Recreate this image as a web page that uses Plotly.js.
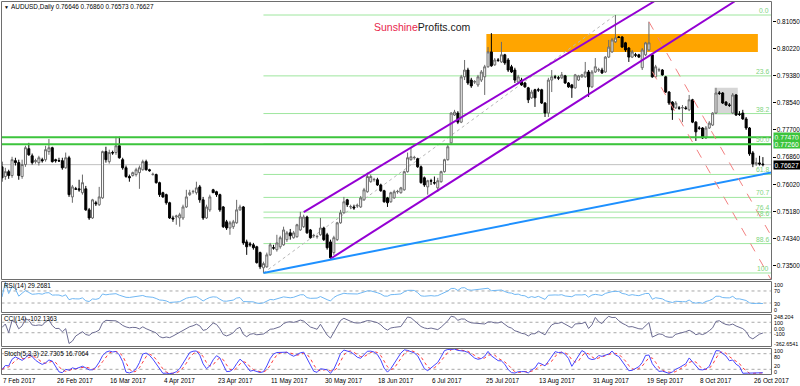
<!DOCTYPE html>
<html><head><meta charset="utf-8">
<script src="https://cdn.plot.ly/plotly-3.0.1.min.js"></script>
<style>html,body{margin:0;padding:0;background:#fff;overflow:hidden}#chart{width:800px;height:386px}</style>
</head><body><div id="chart"></div>
<script>
// ---------------- DATA ----------------
const symbolTitle = 'AUDUSD,Daily 0.76646 0.76860 0.76573 0.76627';
const firstBarDate = [2017, 1, 7];   // 7 Feb 2017, broker with Sun-Fri daily bars
const barCount = 228;
const opens = [
.7656,.7626,.7641,.7629,.7675,.7669,.7626,.7663,.7712,.7690,
.7672,.7669,.7678,.7678,.7703,.7715,.7678,.7675,.7675,.7653,
.7684,.7563,.7588,.7588,.7576,.7588,.7523,.7498,.7545,.7539,
.7560,.7703,.7672,.7700,.7700,.7721,.7678,.7653,.7626,.7629,
.7632,.7638,.7647,.7672,.7647,.7632,.7632,.7607,.7576,.7570,
.7545,.7498,.7501,.7498,.7498,.7532,.7570,.7579,.7576,.7594,
.7554,.7498,.7523,.7585,.7579,.7570,.7532,.7486,.7467,.7471,
.7483,.7523,.7532,.7424,.7418,.7415,.7409,.7391,.7344,.7347,
.7384,.7406,.7400,.7409,.7415,.7431,.7452,.7437,.7440,.7461,
.7471,.7501,.7461,.7443,.7440,.7446,.7467,.7446,.7424,.7391,
.7431,.7483,.7514,.7554,.7532,.7532,.7535,.7532,.7554,.7579,
.7610,.7616,.7616,.7600,.7582,.7560,.7548,.7560,.7579,.7576,
.7585,.7641,.7678,.7684,.7681,.7656,.7622,.7594,.7613,.7607,
.7591,.7610,.7641,.7678,.7730,.7816,.7822,.7794,.7934,.7955,
.7924,.7918,.7909,.7924,.7934,.7965,.8011,.7971,.7986,.7980,
.8002,.7986,.7965,.7955,.7918,.7924,.7915,.7900,.7869,.7894,
.7894,.7894,.7853,.7822,.7924,.7934,.7931,.7931,.7937,.7915,
.7909,.7900,.7924,.7934,.7934,.7949,.7903,.7949,.7955,.7955,
.7949,.7995,.8011,.8042,.8057,.8057,.8039,.8023,.7995,.8002,
.8002,.7962,.8002,.8017,.8002,.7934,.7955,.7955,.7934,.7887,
.7856,.7838,.7838,.7838,.7838,.7832,.7863,.7794,.7776,.7776,
.7745,.7776,.7785,.7822,.7884,.7884,.7856,.7847,.7822,.7878,
.7819,.7822,.7804,.7776,.7699,.7665,.7668,.76646];
const highs = [
.7672,.7653,.7647,.7687,.7684,.7678,.7678,.7721,.7730,.7697,
.7681,.7690,.7684,.7721,.7742,.7718,.7681,.7684,.7684,.7700,
.7690,.7600,.7594,.7616,.7632,.7597,.7529,.7557,.7551,.7594,
.7706,.7718,.7709,.7706,.7749,.7749,.7684,.7660,.7632,.7641,
.7653,.7660,.7678,.7678,.7650,.7638,.7635,.7610,.7579,.7573,
.7548,.7505,.7508,.7514,.7539,.7585,.7585,.7585,.7610,.7600,
.7563,.7539,.7570,.7588,.7582,.7573,.7535,.7492,.7489,.7492,
.7554,.7539,.7535,.7431,.7424,.7421,.7412,.7394,.7363,.7391,
.7421,.7415,.7446,.7443,.7471,.7458,.7464,.7458,.7480,.7517,
.7508,.7505,.7464,.7449,.7446,.7498,.7471,.7452,.7431,.7443,
.7486,.7523,.7563,.7557,.7539,.7539,.7542,.7566,.7591,.7638,
.7632,.7622,.7622,.7604,.7585,.7563,.7579,.7585,.7585,.7594,
.7644,.7700,.7715,.7690,.7684,.7660,.7626,.7616,.7619,.7626,
.7622,.7644,.7681,.7724,.7825,.7832,.7828,.7940,.7986,.7962,
.7931,.7924,.7940,.7955,.7971,.8026,.8069,.7992,.7992,.8042,
.8005,.7992,.7971,.7962,.7940,.7931,.7918,.7903,.7894,.7897,
.7900,.7897,.7856,.7931,.7955,.7940,.7937,.7949,.7940,.7918,
.7912,.7943,.7940,.7943,.7980,.7955,.7955,.7992,.7962,.7962,
.7998,.8048,.8054,.8125,.8060,.8060,.8042,.8026,.8017,.8008,
.8005,.8023,.8042,.8104,.8005,.7971,.7962,.7958,.7937,.7890,
.7859,.7859,.7844,.7847,.7844,.7878,.7866,.7797,.7782,.7779,
.7782,.7797,.7825,.7900,.7890,.7887,.7859,.7853,.7884,.7881,
.7828,.7832,.7810,.7779,.7705,.7684,.7690,.76860];
const lows = [
.7610,.7616,.7619,.7622,.7660,.7616,.7619,.7656,.7690,.7663,
.7666,.7660,.7669,.7672,.7693,.7669,.7669,.7672,.7647,.7650,
.7563,.7545,.7585,.7579,.7570,.7520,.7492,.7495,.7535,.7535,
.7557,.7669,.7666,.7693,.7693,.7681,.7647,.7622,.7610,.7626,
.7626,.7588,.7644,.7644,.7641,.7629,.7604,.7563,.7560,.7539,
.7495,.7486,.7477,.7471,.7492,.7529,.7566,.7573,.7570,.7545,
.7492,.7495,.7517,.7576,.7563,.7517,.7467,.7461,.7446,.7464,
.7480,.7520,.7415,.7384,.7409,.7400,.7357,.7340,.7328,.7344,
.7381,.7400,.7394,.7403,.7412,.7424,.7431,.7434,.7437,.7458,
.7467,.7449,.7434,.7437,.7434,.7443,.7427,.7400,.7372,.7384,
.7427,.7480,.7511,.7532,.7526,.7523,.7529,.7529,.7551,.7576,
.7607,.7610,.7597,.7579,.7545,.7532,.7545,.7557,.7573,.7573,
.7582,.7638,.7675,.7678,.7653,.7604,.7594,.7570,.7600,.7601,
.7579,.7607,.7638,.7675,.7727,.7813,.7788,.7791,.7924,.7909,
.7900,.7912,.7903,.7918,.7878,.7962,.7965,.7968,.7980,.7977,
.7971,.7949,.7946,.7915,.7912,.7906,.7900,.7853,.7866,.7841,
.7887,.7850,.7810,.7810,.7887,.7927,.7924,.7927,.7912,.7900,
.7869,.7897,.7921,.7931,.7931,.7872,.7900,.7946,.7949,.7943,
.7946,.7992,.8008,.8039,.8054,.8023,.8011,.7980,.7992,.7995,
.7992,.7955,.7998,.8014,.7931,.7931,.7949,.7937,.7884,.7847,
.7801,.7835,.7832,.7794,.7832,.7828,.7791,.7736,.7770,.7742,
.7742,.7773,.7782,.7819,.7878,.7850,.7844,.7841,.7819,.7813,
.7813,.7801,.7770,.7690,.7655,.7659,.7660,.76573];
const closes = [
.7622,.7641,.7629,.7678,.7669,.7629,.7663,.7715,.7693,.7669,
.7675,.7684,.7675,.7709,.7715,.7672,.7675,.7674,.7653,.7684,
.7570,.7594,.7587,.7585,.7607,.7523,.7498,.7554,.7542,.7563,
.7703,.7678,.7700,.7699,.7721,.7684,.7653,.7626,.7622,.7638,
.7647,.7653,.7672,.7647,.7644,.7633,.7607,.7570,.7563,.7545,
.7498,.7495,.7504,.7508,.7532,.7563,.7576,.7580,.7591,.7554,
.7498,.7532,.7563,.7576,.7570,.7523,.7471,.7467,.7483,.7486,
.7523,.7532,.7421,.7409,.7415,.7406,.7360,.7347,.7357,.7384,
.7415,.7405,.7421,.7437,.7461,.7452,.7443,.7452,.7477,.7501,
.7501,.7452,.7437,.7444,.7441,.7467,.7431,.7406,.7375,.7437,
.7483,.7514,.7548,.7539,.7533,.7529,.7536,.7560,.7585,.7626,
.7626,.7617,.7600,.7582,.7548,.7545,.7576,.7579,.7580,.7591,
.7641,.7684,.7687,.7685,.7656,.7607,.7600,.7613,.7612,.7606,
.7613,.7641,.7678,.7718,.7822,.7825,.7794,.7934,.7955,.7915,
.7906,.7919,.7934,.7949,.7965,.8011,.7968,.7986,.7985,.8002,
.7977,.7955,.7949,.7924,.7934,.7909,.7903,.7863,.7887,.7869,
.7893,.7853,.7822,.7924,.7934,.7933,.7930,.7940,.7915,.7903,
.7900,.7940,.7937,.7940,.7949,.7903,.7949,.7965,.7956,.7946,
.7995,.8026,.8048,.8054,.8056,.8026,.8017,.7995,.8011,.8001,
.7995,.8017,.8039,.8039,.7934,.7965,.7956,.7940,.7887,.7853,
.7832,.7853,.7837,.7839,.7836,.7863,.7794,.7764,.7775,.7745,
.7776,.7791,.7822,.7884,.7883,.7853,.7847,.7846,.7878,.7816,
.7818,.7804,.7776,.7696,.7665,.7668,.7665,.76627];

const dateTickLabels = ['7 Feb 2017','26 Feb 2017','16 Mar 2017','4 Apr 2017','23 Apr 2017','11 May 2017','30 May 2017','18 Jun 2017','6 Jul 2017','25 Jul 2017','13 Aug 2017','31 Aug 2017','19 Sep 2017','8 Oct 2017','26 Oct 2017'];
const priceTickVals = [0.8105,0.8022,0.7938,0.7854,0.7770,0.7686,0.7602,0.7518,0.7434,0.7350];
const priceTickText = ['0.81050','0.80220','0.79380','0.78540','0.77700','0.76860','0.76020','0.75180','0.74340','0.73500'];
const levelLines = [0.7747, 0.7726];
const levelLabels = ['0.77470', '0.77260'];
const lastPrice = 0.76627, lastPriceLabel = '0.76627';
const fibHigh = 0.8125, fibLow = 0.7328;
const fibLevels = [0, 23.6, 38.2, 50, 61.8, 70.7, 76.4, 78.6, 88.6, 100];
const fibLevelText = ['0.0','23.6','38.2','50.0','61.8','70.7','76.4','78.6','88.6','100'];
const fibLowDate = '9 May 2017', fibHighDate = '8 Sep 2017';
// drawn objects: [date, price] anchors (rays extend to the right)
const blueSupport = [['9 May 2017', 0.7328], ['1 Jun 2017', 0.7369]];
const channelUpper = [['23 May 2017', 0.7516], ['19 Sep 2017', 0.8151]];
const channelLower = [['1 Jun 2017', 0.7372], ['17 Oct 2017', 0.8150]];
const redDash1 = [['20 Sep 2017', 0.8104], ['26 Oct 2017', 0.7542]];
const redDash2 = [['21 Sep 2017', 0.7950], ['26 Oct 2017', 0.7406]];
const orangeZone = {from: '26 Jul 2017', to: '27 Oct 2017', top: 0.8066, bottom: 0.8011};
const grayZone = {from: '13 Oct 2017', to: '20 Oct 2017', top: 0.7900, bottom: 0.7818};
const rsiLabel = 'RSI(14) 29.2681', cciLabel = 'CCI(14) -102.1363', stochLabel = 'Stoch(5,3,3) 22.7305 16.7064';
const cciMax = 248.204, cciMin = -362.6541;
const rsiScaleText = ['100', '70', '30', '0'];
const cciScaleText = ['248.204', '100', '0.00', '-100', '-362.6541'];
const stochScaleText = ['100', '80', '20', '0'];

// ---------------- HELPERS ----------------
const MON = ['Jan','Feb','Mar','Apr','May','Jun','Jul','Aug','Sep','Oct','Nov','Dec'];
const dates = [];
{ let d = new Date(Date.UTC(firstBarDate[0], firstBarDate[1], firstBarDate[2]));
  while (dates.length < barCount) {
    if (d.getUTCDay() !== 6) dates.push(d.getUTCDate() + ' ' + MON[d.getUTCMonth()] + ' ' + d.getUTCFullYear());
    d = new Date(d.getTime() + 86400000);
  } }
const idx = s => dates.indexOf(s);

// indicators derived from the price arrays
function calcRSI(c, n) {
  const out = [50]; let ag = 0, al = 0;
  for (let i = 1; i < c.length; i++) {
    const ch = c[i] - c[i-1], g = Math.max(ch, 0), l = Math.max(-ch, 0);
    if (i <= n) { ag = (ag*(i-1) + g)/i; al = (al*(i-1) + l)/i; }
    else { ag = (ag*(n-1) + g)/n; al = (al*(n-1) + l)/n; }
    out.push(al === 0 ? 100 : 100 - 100/(1 + ag/al));
  }
  return out;
}
function calcCCI(h, l, c, n) {
  const tp = c.map((v, i) => (h[i] + l[i] + v)/3), out = [];
  for (let i = 0; i < tp.length; i++) {
    const s = Math.max(0, i-n+1), w = tp.slice(s, i+1);
    const m = w.reduce((a, b) => a + b, 0)/w.length;
    const md = w.reduce((a, b) => a + Math.abs(b - m), 0)/w.length;
    out.push(md === 0 ? 0 : (tp[i] - m)/(0.015*md));
  }
  return out;
}
function calcStoch(h, l, c, k, slow, dper) {
  const num = [], den = [], main = [], sig = [];
  for (let i = 0; i < c.length; i++) {
    const s = Math.max(0, i-k+1);
    const hh = Math.max(...h.slice(s, i+1)), ll = Math.min(...l.slice(s, i+1));
    num.push(c[i] - ll); den.push(hh - ll);
    const s2 = Math.max(0, i-slow+1);
    let a = 0, b = 0; for (let j = s2; j <= i; j++) { a += num[j]; b += den[j]; }
    main.push(b === 0 ? 50 : 100*a/b);
    const s3 = Math.max(0, i-dper+1); let t = 0;
    for (let j = s3; j <= i; j++) t += main[j];
    sig.push(t/(i-s3+1));
  }
  return [main, sig];
}
const rsi = calcRSI(closes, 14);
const cci = calcCCI(highs, lows, closes, 14);
const [stMain, stSig] = calcStoch(highs, lows, closes, 5, 3, 3);

// ---------------- LAYOUT GEOMETRY ----------------
const W = 800, H = 386;
const PX = x => x/W, PY = y => 1 - y/H;
const plotL = 1.5, plotR = 771.5;
const pMain = [1.5, 279.5], pRsi = [281.5, 312.5], pCci = [314.5, 346.5], pSto = [348.5, 374.5];
const barPx = 3.352, bar0Px = 2;
const xMin = (plotL - bar0Px)/barPx, xMax = (plotR - bar0Px)/barPx;
const pxPerPrice = 3237, refY = 15;
const yMin = fibHigh - (pMain[1] - refY)/pxPerPrice, yMax = fibHigh + (refY - pMain[0])/pxPerPrice;
const FONT = 'Liberation Sans, Arial, sans-serif';
const FS = 6.4;

function ray(a, b) {
  const x1 = idx(a[0]), y1 = a[1], x2 = idx(b[0]), y2 = b[1];
  const sl = (y2 - y1)/(x2 - x1);
  let xe = xMax, ye = y1 + sl*(xe - x1);
  if (ye > yMax) { xe = x1 + (yMax - y1)/sl; ye = yMax; }
  if (ye < yMin) { xe = x1 + (yMin - y1)/sl; ye = yMin; }
  return {x0: x1, y0: y1, x1: xe, y1: ye};
}

const shapes = [];
// zones
shapes.push({type:'rect', xref:'x', yref:'y', x0: idx(orangeZone.from)-0.5, x1: idx(orangeZone.to)+0.5,
  y0: orangeZone.bottom, y1: orangeZone.top, fillcolor:'#FFA500', line:{width:0}, layer:'below'});
shapes.push({type:'rect', xref:'x', yref:'y', x0: idx(grayZone.from)-0.5, x1: idx(grayZone.to)+0.5,
  y0: grayZone.bottom, y1: grayZone.top, fillcolor:'#D6D6D6', line:{width:0}, layer:'below'});
// fibonacci
const fibPrice = f => fibHigh - (fibHigh - fibLow)*f/100;
fibLevels.forEach(f => shapes.push({type:'line', xref:'x', yref:'y', x0: idx(fibLowDate), x1: xMax,
  y0: fibPrice(f), y1: fibPrice(f), line:{color:'#9EE69E', width:1}, layer:'below'}));
shapes.push({type:'line', xref:'x', yref:'y', x0: idx(fibLowDate), y0: fibLow, x1: idx(fibHighDate), y1: fibHigh,
  line:{color:'#B8B8B8', width:1, dash:'dot'}, layer:'below'});
// current price line
shapes.push({type:'line', xref:'paper', yref:'y', x0: PX(plotL), x1: PX(plotR), y0: lastPrice, y1: lastPrice,
  line:{color:'#C0C0C0', width:1}, layer:'below'});
// horizontal resistance lines
levelLines.forEach(v => shapes.push({type:'line', xref:'paper', yref:'y', x0: PX(plotL), x1: PX(plotR), y0: v, y1: v,
  line:{color:'#3CC43C', width:2}}));
// trend lines
[[channelUpper,'#9400D3',2,'solid'],[channelLower,'#9400D3',2,'solid'],[blueSupport,'#1E90FF',2,'solid'],
 [redDash1,'#F28080',1,'dash'],[redDash2,'#F28080',1,'dash']].forEach(([pts,col,w,dash]) => {
  const r = ray(pts[0], pts[1]);
  shapes.push(Object.assign({type:'line', xref:'x', yref:'y', line:{color:col, width:w, dash:dash}}, r));
});
// indicator level lines
[[70,'y2'],[30,'y2'],[100,'y3'],[-100,'y3'],[80,'y4'],[20,'y4']].forEach(([v,ax]) =>
  shapes.push({type:'line', xref:'paper', yref:ax, x0: PX(plotL), x1: PX(plotR), y0: v, y1: v,
    line:{color:'#A8A8A8', width:1, dash:'dot'}, layer:'below'}));
// panel frames
[pMain, pRsi, pCci, pSto].forEach(p => shapes.push({type:'rect', xref:'paper', yref:'paper',
  x0: PX(plotL), x1: PX(plotR), y0: PY(p[1]), y1: PY(p[0]), line:{color:'#6E6E6E', width:1}, fillcolor:'rgba(0,0,0,0)'}));

// ---------------- ANNOTATIONS ----------------
const ann = [];
const txt = (x, y, t, o) => ann.push(Object.assign({xref:'paper', yref:'paper', x: PX(x), y: PY(y), text: t,
  showarrow:false, xanchor:'left', yanchor:'middle', borderpad:0, font:{family:FONT, size:FS, color:'#000'}}, o||{}));
txt(3, 7, '▼', {font:{family:FONT, size:5, color:'#000'}});
txt(10, 7, symbolTitle);
txt(3, 286, rsiLabel); txt(3, 319, cciLabel); txt(3, 354, stochLabel);
ann.push({xref:'paper', yref:'paper', x: PX(372), y: PY(27), xanchor:'left', yanchor:'middle', showarrow:false,
  text:'<span style="color:#E8264C">Sunshine</span>Profits.com', font:{family:FONT, size:10.5, color:'#1a1a1a'}});
// date labels
dateTickLabels.forEach(d => ann.push({xref:'x', yref:'paper', x: idx(d), y: PY(380.5), text: d, showarrow:false,
  xanchor:'left', yanchor:'middle', borderpad:0, font:{family:FONT, size:FS, color:'#000'}}));
// fib level text
fibLevels.forEach((f, i) => ann.push({xref:'paper', yref:'y', x: PX(770), y: fibPrice(f), text: fibLevelText[i],
  showarrow:false, xanchor:'right', yanchor:'bottom', borderpad:0, font:{family:FONT, size:FS+0.4, color:'#80D480'}}));
// highlighted axis labels
levelLines.forEach((v, i) => ann.push({xref:'paper', yref:'y', x: PX(772.5), y: v, text: levelLabels[i], showarrow:false,
  xanchor:'left', yanchor:'middle', bgcolor:'#3CC43C', borderpad:0.6, font:{family:FONT, size:FS+0.3, color:'#ffffff'}}));
ann.push({xref:'paper', yref:'y', x: PX(772.5), y: lastPrice, text: lastPriceLabel, showarrow:false,
  xanchor:'left', yanchor:'middle', bgcolor:'#000000', borderpad:0.6, font:{family:FONT, size:FS+0.3, color:'#ffffff'}});
// indicator scale labels (small, spaced so they do not collide)
const SFS = 5.4;
[[rsiScaleText[0],284.9],[rsiScaleText[1],291.2],[rsiScaleText[2],303.7],[rsiScaleText[3],309.6]].forEach(([t,y]) =>
  txt(773, y, t, {font:{family:FONT, size:SFS, color:'#000'}}));
[[cciScaleText[0],317.4],[cciScaleText[1],323.3],[cciScaleText[2],328.6],[cciScaleText[3],334.2],[cciScaleText[4],344.0]].forEach(([t,y]) =>
  txt(772.5, y, t, {font:{family:FONT, size:SFS, color:'#000'}}));
[[stochScaleText[0],351.3],[stochScaleText[1],357.4],[stochScaleText[2],366.3],[stochScaleText[3],372.0]].forEach(([t,y]) =>
  txt(773, y, t, {font:{family:FONT, size:SFS, color:'#000'}}));

// ---------------- TRACES ----------------
const traces = [
  {type:'candlestick', x: dates, open: opens, high: highs, low: lows, close: closes, xaxis:'x', yaxis:'y',
   increasing:{line:{color:'#6A6A6A', width:1}, fillcolor:'#FFFFFF'},
   decreasing:{line:{color:'#000000', width:1}, fillcolor:'#000000'},
   whiskerwidth:0, hoverinfo:'skip', showlegend:false},
  {type:'scatter', mode:'lines', x: dates, y: rsi, xaxis:'x', yaxis:'y2', line:{color:'#70B7F3', width:1}, hoverinfo:'skip', showlegend:false},
  {type:'scatter', mode:'lines', x: dates, y: cci, xaxis:'x', yaxis:'y3', line:{color:'#6C6C92', width:1}, hoverinfo:'skip', showlegend:false},
  {type:'scatter', mode:'lines', x: dates, y: stSig, xaxis:'x', yaxis:'y4', line:{color:'#FF3B3B', width:1, dash:'dot'}, hoverinfo:'skip', showlegend:false},
  {type:'scatter', mode:'lines', x: dates, y: stMain, xaxis:'x', yaxis:'y4', line:{color:'#4646FF', width:1}, hoverinfo:'skip', showlegend:false}
];

const yBase = {anchor:'x', showgrid:false, zeroline:false, showticklabels:false, fixedrange:true, showline:false};
const layout = {
  width: W, height: H, margin:{l:0, r:0, t:0, b:0, autoexpand:false},
  paper_bgcolor:'#fff', plot_bgcolor:'rgba(0,0,0,0)', showlegend:false, boxgap:0.15,
  xaxis:{type:'category', domain:[PX(plotL), PX(plotR)], range:[xMin, xMax], anchor:'y4',
    showgrid:false, zeroline:false, showticklabels:false, ticks:'', rangeslider:{visible:false}, fixedrange:true},
  yaxis: Object.assign({}, yBase, {domain:[PY(pMain[1]), PY(pMain[0])], range:[yMin, yMax], side:'right',
    showticklabels:true, tickvals: priceTickVals, ticktext: priceTickText, ticks:'outside', ticklen:3,
    tickcolor:'#000', tickfont:{family:FONT, size:FS, color:'#000'}}),
  yaxis2: Object.assign({}, yBase, {domain:[PY(pRsi[1]), PY(pRsi[0])], range:[-1.5, 101.5]}),
  yaxis3: Object.assign({}, yBase, {domain:[PY(pCci[1]), PY(pCci[0])], range:[cciMin, cciMax]}),
  yaxis4: Object.assign({}, yBase, {domain:[PY(pSto[1]), PY(pSto[0])], range:[0, 100]}),
  shapes: shapes, annotations: ann
};
Plotly.newPlot('chart', traces, layout, {staticPlot:true, displayModeBar:false});
</script>
</body></html>
